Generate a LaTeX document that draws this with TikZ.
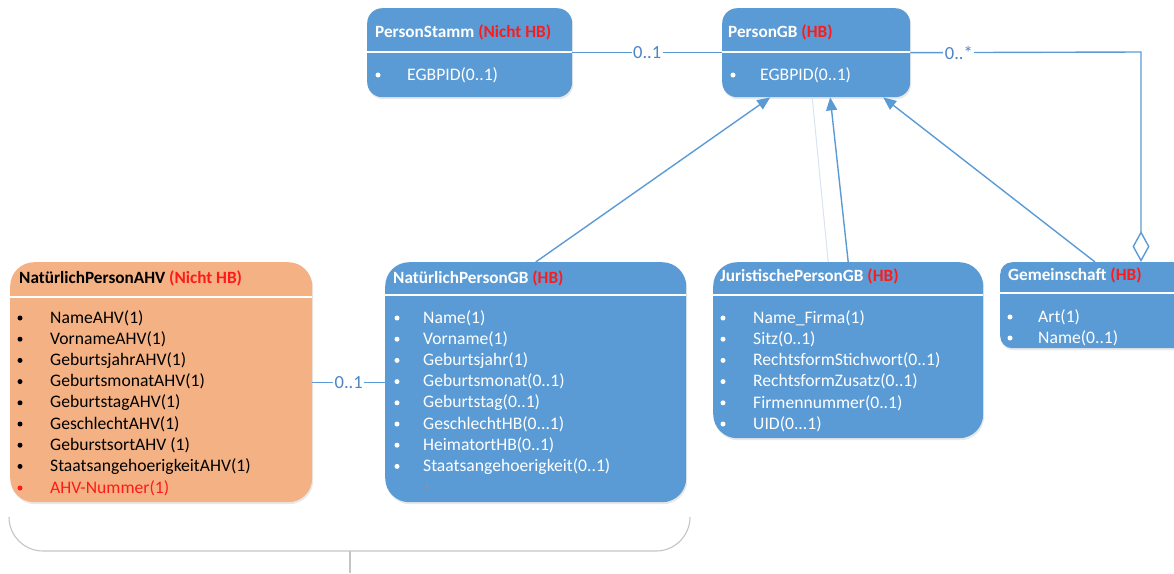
\documentclass[tikz,border=0pt]{standalone}
\usepackage{fontspec}
\setmainfont{Carlito}
\usetikzlibrary{arrows.meta,shadows}
\definecolor{boxblue}{HTML}{5B9BD5}
\definecolor{boxorange}{HTML}{F4B183}
\definecolor{hbred}{HTML}{FF1A1A}
\definecolor{lineblue}{HTML}{5B9BD5}
\definecolor{lblblue}{HTML}{4F84C4}
\definecolor{faintline}{HTML}{D8E4F1}
\definecolor{bracketgrey}{HTML}{C4C4C4}
\definecolor{dotorange}{HTML}{E07A5F}
\begin{document}
\begin{tikzpicture}[x=1pt,y=-1pt,
  umlbox/.style={draw=none, rounded corners=#1, inner sep=0pt, anchor=north west,
    drop shadow={opacity=0.18, shadow xshift=1pt, shadow yshift=-2pt}},
  umlbox/.default=15pt,
  bluebox/.style={umlbox=#1, fill=boxblue},
  bluebox/.default=15pt,
  orangebox/.style={umlbox=#1, fill=boxorange},
  orangebox/.default=15pt,
  boxtitle/.style={anchor=west, inner sep=0pt, font=\fontsize{17.2}{20}\selectfont\bfseries, text=white},
  boxitem/.style={anchor=west, inner sep=0pt, font=\fontsize{17.6}{21}\selectfont, text=white},
  hdr/.style={draw=white, line width=1.2pt},
  conn/.style={draw=lineblue, line width=1.4pt},
  inh/.style={conn, -{Triangle[length=13pt,width=11pt]}},
  lbl/.style={fill=white, inner sep=1.5pt, font=\fontsize{18.5}{20}\selectfont, text=lblblue},
  bracketline/.style={draw=bracketgrey, line width=1.1pt}
]
\useasboundingbox (0,0) rectangle (1174,573);

% bottom bracket
\draw[bracketline, rounded corners=34pt] (9,518) -- (9,551) -- (690,551) -- (690,518);
\draw[bracketline] (350,551) -- (350,573);

% boxes
\node[bluebox=15pt, minimum width=205pt, minimum height=89pt] (ps) at (367,8) {};
\node[bluebox=15pt, minimum width=188pt, minimum height=89pt] (pgb) at (722,8) {};
\node[orangebox=24pt, minimum width=302pt, minimum height=240pt] (ahv) at (10,262) {};
\node[bluebox=24pt, minimum width=301pt, minimum height=240pt] (ngb) at (385,262) {};
\node[bluebox=24pt, minimum width=270pt, minimum height=176pt] (jur) at (713,262) {};
\node[bluebox=12pt, minimum width=200pt, minimum height=86pt] (gem) at (1000,262) {};

% header lines
\draw[hdr] (367,52) -- (572,52);
\draw[hdr] (722,52) -- (910,52);
\draw[hdr] (10,297) -- (312,297);
\draw[hdr] (385,295) -- (686,295);
\draw[hdr] (713,295) -- (983,295);
\draw[hdr] (1000,293) -- (1200,293);

% titles
\node[boxtitle] (psT) at (375,32) {PersonStamm \textcolor{hbred}{(Nicht HB)}};
\node[boxtitle] (pgbT) at (728,32) {PersonGB \textcolor{hbred}{(HB)}};
\node[boxtitle, text=black] (ahvT) at (19,278) {NatürlichPersonAHV \textcolor{hbred}{(Nicht HB)}};
\node[boxtitle] (ngbT) at (393,278) {NatürlichPersonGB \textcolor{hbred}{(HB)}};
\node[boxtitle] (jurT) at (720,276) {JuristischePersonGB \textcolor{hbred}{(HB)}};
\node[boxtitle] (gemT) at (1008,275) {Gemeinschaft \textcolor{hbred}{(HB)}};

% PersonStamm / PersonGB items
\fill[white] (378,75) circle[radius=2.5pt];
\node[boxitem] (ps1) at (407,75) {EGBPID(0..1)};
\fill[white] (733,75) circle[radius=2.5pt];
\node[boxitem] (pgb1) at (760,75) {EGBPID(0..1)};

% AHV items
\foreach \t [count=\i] in {NameAHV(1),VornameAHV(1),GeburtsjahrAHV(1),GeburtsmonatAHV(1),GeburtstagAHV(1),GeschlechtAHV(1),GeburstsortAHV (1),StaatsangehoerigkeitAHV(1)}{
  \fill[black] (20,{318+21.2*(\i-1)}) circle[radius=2.5pt];
  \node[boxitem, text=black] (ahv\i) at (50,{318+21.2*(\i-1)}) {\t};
}
\fill[hbred] (20,488) circle[radius=2.5pt];
\node[boxitem, text=hbred] (ahv9) at (50,488) {AHV-Nummer(1)};

% NatuerlichPersonGB items
\foreach \t [count=\i] in {Name(1),Vorname(1),Geburtsjahr(1),Geburtsmonat(0..1),Geburtstag(0..1),GeschlechtHB(0..{}.1),HeimatortHB(0..1),Staatsangehoerigkeit(0..1)}{
  \fill[white] (397,{318+21.2*(\i-1)}) circle[radius=2.5pt];
  \node[boxitem] (ngb\i) at (423,{318+21.2*(\i-1)}) {\t};
}
\node[boxitem, text=dotorange, font=\fontsize{16}{16}\selectfont] (ngbdot) at (425,487) {.};

% Juristische items
\foreach \t [count=\i] in {Name\_Firma(1),Sitz(0..1),RechtsformStichwort(0..1),RechtsformZusatz(0..1),Firmennummer(0..1),UID(0..{}.1)}{
  \fill[white] (723,{318+21.2*(\i-1)}) circle[radius=2.5pt];
  \node[boxitem] (jur\i) at (753,{318+21.2*(\i-1)}) {\t};
}

% Gemeinschaft items
\fill[white] (1010,317) circle[radius=2.5pt];
\node[boxitem] (gem1) at (1038,317) {Art(1)};
\fill[white] (1010,338) circle[radius=2.5pt];
\node[boxitem] (gem2) at (1038,338) {Name(0..1)};

% connector anchor points
\coordinate (pgbA) at ([xshift=-46pt]pgb.south);
\coordinate (pgbB) at ([xshift=14pt]pgb.south);
\coordinate (pgbC) at ([xshift=67pt]pgb.south);
\coordinate (pgbF) at ([xshift=-4pt]pgb.south);
\coordinate (jurF) at ([xshift=-20pt]jur.north);
\coordinate (gemS) at ([xshift=95pt]gem.north west);
\coordinate (gemD) at ([xshift=141pt]gem.north west);
\coordinate (bend) at (1141,52);

% associations
\draw[conn] (ps.east) -- node[lbl]{0..1} (pgb.west);
\draw[conn] (ahv.east) -- node[lbl]{0..1} (ngb.west);
\draw[conn, -{Diamond[open, length=31pt, width=17pt]}] (pgb.east) -- node[lbl, pos=0.21]{0..*} (bend) -- (gemD);

% generalisations
\draw[faintline, line width=1pt] (jurF) -- (pgbF);
\draw[inh] (ngb.north) -- (pgbA);
\draw[inh] (jur.north) -- (pgbB);
\draw[inh] (gemS) -- (pgbC);
\end{tikzpicture}
\end{document}
